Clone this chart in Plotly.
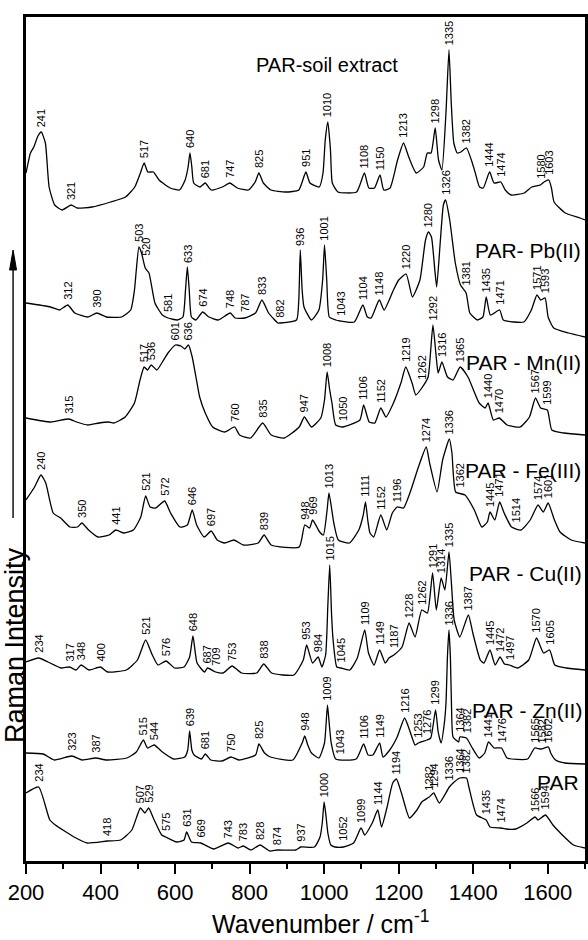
import numpy as np
import plotly.graph_objects as go

FONT = "Liberation Sans, Arial, sans-serif"

spectrum_names = ["PAR-soil extract", "PAR- Pb(II)", "PAR - Mn(II)", "PAR - Fe(III)",
                  "PAR - Cu(II)", "PAR - Zn(II)", "PAR"]

# ---- PAR-soil extract ----
soil_wn = [200,212,221,232,241,252,262,277,297,321,337,377,427,467,492,507,517,527,542,557,
           587,612,627,635,640,645,650,667,681,697,727,747,767,797,815,825,837,857,897,932,
           951,962,987,997,1003,1010,1017,1022,1037,1087,1108,1120,1135,1150,1160,1177,1197,1213,1227,1247,
           1267,1277,1287,1298,1307,1316,1327,1335,1341,1348,1357,1367,1382,1395,1405,1417,1427,1444,1456,1474,
           1486,1502,1537,1557,1580,1590,1603,1610,1617,1647,1687,1700]
soil_int = [49,69,75,86,90,79,35,17,12,17,14,15,20,25,35,49,59,50,50,42,
            34,32,42,55,69,55,39,35,39,32,35,39,34,32,40,49,39,32,30,32,
            50,39,35,49,82,100,72,39,30,30,49,34,34,47,32,34,62,79,65,49,
            55,69,69,94,62,52,110,172,120,79,69,70,74,62,50,35,34,50,39,40,
            32,27,29,35,37,40,42,34,20,9,4,2]
soil_peaks = [241,321,517,640,681,747,825,951,1010,1108,1150,1213,1298,1335,1382,1444,1474,1580,1603]

# ---- PAR-Pb(II) ----
pb_wn = [200,266,290,312,331,366,390,416,456,481,491,496,503,510,520,530,546,566,581,606,
         621,628,633,638,644,656,674,691,716,748,761,787,816,833,851,876,882,926,932,936,
         941,946,966,986,996,1001,1007,1014,1031,1043,1081,1104,1116,1126,1148,1161,1186,1200,1220,1237,
         1257,1272,1280,1288,1297,1302,1312,1320,1326,1337,1352,1366,1381,1391,1411,1426,1435,1446,1471,1481,
         1536,1556,1571,1581,1593,1601,1616,1656,1700]
pb_int = [37,33,30,35,27,23,27,23,23,30,50,70,93,87,72,67,37,25,22,20,
          23,50,73,50,23,20,28,23,20,27,22,22,27,40,27,17,17,20,40,90,
          50,33,20,30,60,95,60,23,20,19,18,35,23,22,40,30,50,60,66,43,
          60,100,108,103,70,53,100,135,140,120,77,55,47,27,20,23,43,25,30,20,
          18,30,45,40,42,23,12,7,3]
pb_peaks = [312,390,503,520,581,633,674,748,787,833,882,936,1001,1043,1104,1148,1220,1280,1326,
            1381,1435,1471,1571,1593]

# ---- PAR-Mn(II) ----
mn_wn = [200,266,315,336,366,396,421,436,466,491,506,517,526,536,551,566,581,601,616,626,
         636,646,656,666,681,701,733,760,773,803,835,858,893,933,947,966,991,1001,1008,1015,
         1021,1031,1050,1096,1106,1121,1136,1152,1166,1186,1206,1219,1236,1246,1262,1279,1286,1292,1301,1306,
         1316,1331,1346,1365,1386,1416,1432,1440,1454,1470,1491,1526,1551,1567,1581,1599,1611,1643,1700]
mn_int = [22,18,21,18,15,17,18,17,23,37,60,73,70,75,70,78,87,95,94,91,
          95,83,63,43,27,13,8,13,5,2,17,5,2,13,23,13,22,40,68,50,
          37,15,13,20,35,18,17,32,23,37,57,73,57,45,52,63,90,115,82,67,
          78,63,60,73,63,37,32,37,20,22,15,13,23,42,32,30,10,7,5]
mn_peaks = [315,517,536,601,636,760,835,947,1008,1050,1106,1152,1219,1262,1292,1316,1365,1440,1470,1567,1599]

# ---- PAR-Fe(III) ----
fe_wn = [200,223,240,253,273,293,318,338,350,368,393,423,441,463,488,508,521,533,548,572,
         588,613,633,646,658,678,697,713,733,758,783,823,839,858,933,948,961,969,988,998,
         1008,1013,1026,1038,1068,1093,1105,1111,1117,1123,1133,1152,1168,1183,1196,1213,1233,1253,1274,1283,
         1303,1318,1336,1343,1353,1378,1403,1423,1438,1445,1458,1471,1483,1503,1528,1553,1574,1588,1601,1618,
         1633,1663,1700]
fe_int = [50,63,75,67,37,32,23,23,27,20,13,15,20,17,20,33,54,43,42,49,
          37,23,25,40,25,13,19,10,7,10,5,7,15,5,3,25,22,30,18,15,
          40,57,27,10,7,20,35,48,30,17,13,35,20,37,43,42,60,83,103,87,
          58,90,111,97,58,55,40,23,28,38,30,48,37,23,20,30,45,38,47,30,
          18,10,7]
fe_peaks = [240,350,441,521,572,646,697,839,948,969,1013,1111,1152,1196,1274,1336,1362,1445,1471,1514,1574,1601]

# ---- PAR-Cu(II) ----
cu_wn = [200,234,259,294,317,334,348,369,400,419,469,499,521,539,554,576,599,624,639,648,
         659,679,687,709,729,753,779,819,838,859,919,944,953,969,984,994,1004,1010,1015,1020,
         1024,1034,1045,1069,1089,1109,1119,1134,1149,1164,1174,1187,1209,1228,1244,1262,1277,1291,1301,1314,
         1324,1335,1341,1349,1364,1387,1399,1419,1429,1445,1459,1472,1484,1497,1519,1549,1570,1589,1605,1619,
         1649,1700]
cu_int = [33,37,33,27,28,25,30,25,28,23,25,35,55,40,30,34,27,28,38,59,
          32,23,27,23,22,29,22,22,31,22,20,35,50,32,38,28,40,90,130,80,
          55,28,27,25,37,65,42,30,45,32,37,40,48,72,58,85,82,122,85,117,
          105,143,115,75,58,80,62,35,32,45,30,38,31,30,27,35,57,42,45,30,
          27,25]
cu_peaks = [234,317,348,400,521,576,648,687,709,753,838,953,984,1015,1045,1109,1149,1187,1228,1262,
            1291,1314,1335,1387,1445,1472,1497,1570,1605]

# ---- PAR-Zn(II) ----
zn_wn = [200,246,276,323,351,387,416,471,496,515,526,544,566,596,626,634,639,645,651,671,
         681,696,726,750,771,816,825,840,856,916,941,948,956,966,986,1001,1005,1009,1014,1019,
         1031,1086,1106,1118,1131,1149,1158,1176,1196,1216,1231,1244,1253,1276,1286,1299,1306,1314,1322,1327,
         1331,1335,1339,1342,1346,1361,1364,1382,1396,1416,1431,1441,1456,1476,1491,1546,1558,1565,1582,1602,
         1608,1621,1646,1700]
zn_int = [12,11,5,9,5,7,5,7,13,25,17,20,13,6,8,15,34,15,10,6,
          11,5,4,8,5,10,21,12,8,5,22,29,20,12,7,22,40,60,40,22,
          6,6,21,10,10,22,8,15,28,47,33,20,22,25,27,55,33,22,40,62,
          110,135,105,55,28,23,28,27,18,7,12,23,17,17,7,6,13,17,16,18,
          12,5,2,1]
zn_peaks = [323,387,515,544,639,681,750,825,948,1009,1043,1106,1149,1216,1253,1276,1299,1336,1364,1382,
            1441,1476,1565,1582,1602]

# ---- PAR ----
par_wn = [200,234,264,279,299,334,364,418,454,484,507,519,529,544,564,575,604,624,631,644,
          669,704,743,769,783,804,828,854,874,924,937,974,989,995,1000,1005,1010,1018,1029,1052,
          1079,1099,1109,1129,1144,1154,1169,1184,1194,1209,1229,1249,1262,1282,1294,1309,1336,1349,1364,1382,
          1389,1409,1435,1445,1474,1489,1514,1544,1566,1574,1594,1614,1634,1669,1700]
par_int = [58,64,31,26,21,13,8,10,11,21,43,38,43,31,16,14,9,11,19,9,
           8,2,8,3,5,1,6,0,1,1,4,4,14,28,49,35,18,6,4,4,
           8,23,16,28,41,24,44,68,72,56,33,41,49,54,58,48,64,69,73,73,
           63,36,31,24,23,22,22,28,34,31,36,26,18,6,3]
par_peaks = [234,418,507,529,575,631,669,743,783,828,874,937,1000,1052,1099,1144,1194,1282,1294,1336,
             1364,1382,1435,1474,1566,1594]

# vertical stacking offsets (same units as the intensities)
stack_offsets = [639, 521, 421, 311, 166, 96, 10]

x_ticks = [200, 400, 600, 800, 1000, 1200, 1400, 1600]

spectra = [
    (soil_wn, soil_int, soil_peaks),
    (pb_wn, pb_int, pb_peaks),
    (mn_wn, mn_int, mn_peaks),
    (fe_wn, fe_int, fe_peaks),
    (cu_wn, cu_int, cu_peaks),
    (zn_wn, zn_int, zn_peaks),
    (par_wn, par_int, par_peaks),
]

# layout geometry (pixels)
W, H = 588, 940
ML, MR, MT, MB = 26, 0, 17, 79
PW, PH = W - ML - MR, H - MT - MB


def px_x(p):
    return (p - ML) / PW


def px_y(p):
    return (H - MB - p) / PH


fig = go.Figure()
annotations = []

for (wn, inten, peaks), off in zip(spectra, stack_offsets):
    wn = np.array(wn, dtype=float)
    yy = np.array(inten, dtype=float) + off
    fig.add_trace(go.Scatter(
        x=wn, y=yy, mode="lines",
        line=dict(color="black", width=1.3, shape="spline", smoothing=0.5),
        hoverinfo="skip", showlegend=False))
    grid = np.linspace(wn.min(), wn.max(), 4000)
    gy = np.interp(grid, wn, yy)
    for p in peaks:
        m = (grid >= p - 5) & (grid <= p + 5)
        top = gy[m].max()
        annotations.append(dict(
            x=p, y=top + 3, xref="x", yref="y", text=str(p), textangle=-90,
            xanchor="center", yanchor="bottom", showarrow=False,
            font=dict(size=11, color="black", family=FONT)))

# spectrum names
name_pos = [
    (329, 65, "center", 20),
    (586, 250, "right", 21),
    (586, 362, "right", 21),
    (586, 470, "right", 21),
    (587, 573, "right", 21),
    (587, 710, "right", 21),
    (584, 782, "right", 21),
]
for name, (xp, yp, anc, fs) in zip(spectrum_names, name_pos):
    annotations.append(dict(
        x=px_x(xp), y=px_y(yp), xref="paper", yref="paper", text=name,
        xanchor=anc, yanchor="middle", showarrow=False,
        font=dict(size=fs, color="black", family=FONT)))

# axis titles
annotations.append(dict(
    x=px_x(322), y=px_y(922), xref="paper", yref="paper",
    text="Wavenumber / cm<sup>-1</sup>", xanchor="center", yanchor="middle",
    showarrow=False, font=dict(size=25, color="black", family=FONT)))
annotations.append(dict(
    x=px_x(15), y=px_y(645), xref="paper", yref="paper",
    text="Raman Intensity", textangle=-90, xanchor="center", yanchor="middle",
    showarrow=False, font=dict(size=27, color="black", family=FONT)))

# upward arrow next to the y title
ax_x = px_x(13)
shapes = [
    dict(type="line", xref="paper", yref="paper", x0=ax_x, x1=ax_x,
         y0=px_y(518), y1=px_y(266), line=dict(color="black", width=1.4)),
    dict(type="path", xref="paper", yref="paper",
         path="M {a},{b} L {c},{d} L {e},{d} Z".format(
             a=ax_x, b=px_y(250), c=px_x(9.5), d=px_y(270), e=px_x(16.5)),
         fillcolor="black", line=dict(color="black", width=1)),
]

fig.update_layout(
    width=W, height=H,
    margin=dict(l=ML, r=MR, t=MT, b=MB),
    paper_bgcolor="white", plot_bgcolor="white",
    font=dict(family=FONT, color="black"),
    showlegend=False,
    annotations=annotations,
    shapes=shapes,
)
fig.update_xaxes(
    range=[200, 1700], showline=True, linewidth=2.5, linecolor="black", mirror=True,
    ticks="outside", ticklen=10, tickwidth=2, tickcolor="black",
    tickmode="array", tickvals=x_ticks, ticktext=[str(v) for v in x_ticks],
    tickfont=dict(size=22, color="black", family=FONT),
    showgrid=False, zeroline=False,
    minor=dict(ticks="outside", tickmode="linear", tick0=300, dtick=200, ticklen=5,
               tickwidth=1.5, tickcolor="black", showgrid=False),
)
fig.update_yaxes(
    range=[0, PH], showline=True, linewidth=2.5, linecolor="black", mirror=True,
    ticks="", showticklabels=False, showgrid=False, zeroline=False,
)

fig.write_html("out.html")
